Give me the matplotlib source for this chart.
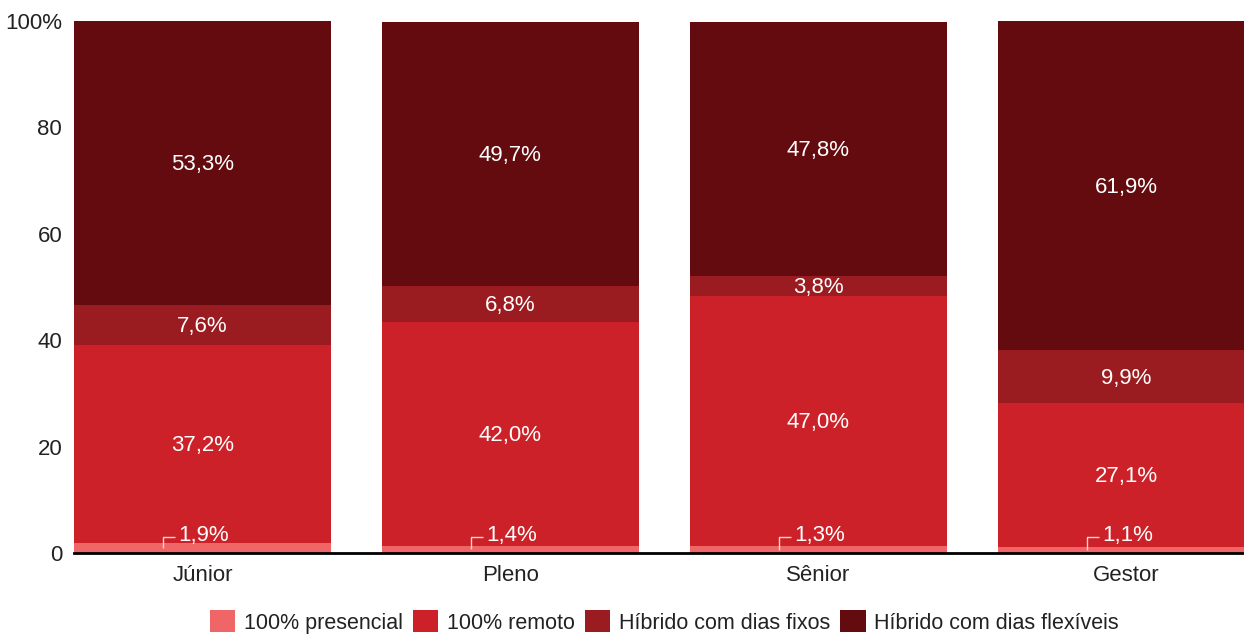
import numpy as np
import matplotlib.pyplot as plt

plt.rcParams['font.family'] = ['Liberation Sans', 'DejaVu Sans']

# Data
niveis = ['Júnior', 'Pleno', 'Sênior', 'Gestor']
presencial = [1.9, 1.4, 1.3, 1.1]
remoto = [37.2, 42.0, 47.0, 27.1]
hibrido_fixos = [7.6, 6.8, 3.8, 9.9]
hibrido_flex = [53.3, 49.7, 47.8, 61.9]

series = [
    ('100% presencial', presencial, '#f06667'),
    ('100% remoto', remoto, '#cc2128'),
    ('Híbrido com dias fixos', hibrido_fixos, '#9a1b20'),
    ('Híbrido com dias flexíveis', hibrido_flex, '#630b0f'),
]

fig = plt.figure(figsize=(12.44, 6.34), dpi=100)
ax = fig.add_axes([0.0595, 0.1278, 0.9405, 0.8391])

x = np.arange(len(niveis))
width = 0.834
bottom = np.zeros(len(niveis))
for name, vals, color in series:
    vals = np.array(vals)
    ax.bar(x, vals, width, bottom=bottom, color=color, label=name, zorder=2)
    for xi, b, v in zip(x, bottom, vals):
        label = f'{v:.1f}%'.replace('.', ',')
        if v < 3:
            # small segment: label above with bracket leader
            ax.plot([xi - 0.128, xi - 0.128, xi - 0.09], [b + v / 2, 3.0, 3.0],
                    color='#f4d4d4', lw=1, zorder=3, solid_capstyle='butt')
            ax.text(xi - 0.078, 3.2, label, color='white', fontsize=16,
                    ha='left', va='center', zorder=4)
        else:
            ax.text(xi, b + v / 2 - 0.3, label, color='white', fontsize=16,
                    ha='center', va='center', zorder=4)
    bottom += vals

ax.set_xlim(-0.417, 3.382)
ax.set_ylim(0, 100)
ax.set_yticks([0, 20, 40, 60, 80, 100])
ax.set_yticklabels(['0', '20', '40', '60', '80', '100%'])
ax.set_xticks(x)
ax.set_xticklabels(niveis)
ax.tick_params(axis='both', length=0, labelsize=16, colors='#222222')
ax.tick_params(axis='y', pad=8.5)
ax.tick_params(axis='x', pad=9)
for s in ['top', 'right', 'left']:
    ax.spines[s].set_visible(False)
ax.spines['bottom'].set_linewidth(2)
ax.spines['bottom'].set_color('black')
ax.spines['bottom'].set_zorder(5)

fig.legend(loc='center', bbox_to_anchor=(0.534, 0.019), ncol=4,
           frameon=False, fontsize=15.5, handlelength=1.2, handleheight=1.2,
           handletextpad=0.4, columnspacing=0.45, labelcolor='#222222')

fig.savefig('out.png', dpi=100)
